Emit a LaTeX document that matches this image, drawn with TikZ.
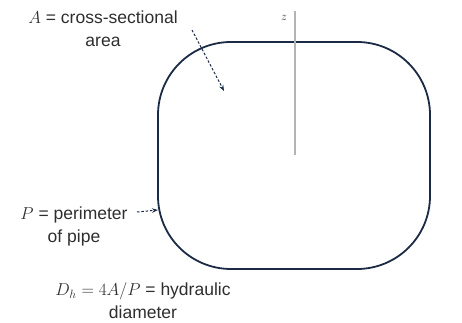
\documentclass[tikz,border=0pt]{standalone}
\usepackage{fontspec}
\setmainfont{Liberation Sans}
\usetikzlibrary{arrows.meta}
\definecolor{pipecol}{HTML}{1C2B45}
\definecolor{axiscol}{HTML}{B4B4B4}
\definecolor{txtcol}{HTML}{2E2E2E}
\tikzset{
  pipeshape/.style={draw=pipecol, line width=1.8pt, rounded corners=73pt, minimum width=272pt, minimum height=227pt, inner sep=0pt},
  axisline/.style={draw=axiscol, line width=1.2pt},
  lbl/.style={text=txtcol, align=center, inner sep=0pt, font=\fontsize{17.5}{23}\selectfont},
  darrow/.style={draw=pipecol, line width=1pt, dash pattern=on 2.5pt off 1.8pt, -{Stealth[length=6pt,width=4.5pt]}}
}
\begin{document}
\begin{tikzpicture}[x=1pt,y=1pt]
\useasboundingbox (0,0) rectangle (462,323);
\node[pipeshape] (pipe) at (294,167.5) {};
% z axis
\coordinate (ztop) at (295,312);
\coordinate (zbot) at (295,168);
\draw[axisline] (ztop) -- (zbot);
\node[text=txtcol, inner sep=0pt, font=\fontsize{12}{14}\selectfont] (zl) at (284,305) {$z$};
% labels
\node[lbl] (Alab) at (103,294) {$A$ = cross-sectional\\area};
\node[lbl] (Plab) at (74,97) {$P$ = perimeter\\of pipe};
\node[lbl] (Dlab) at (143,22) {$D_h = 4A/P$ = hydraulic\\diameter};
% arrows
\coordinate (Astart) at (192,293);
\coordinate (Aend) at (224,232);
\draw[darrow] (Astart) -- (Aend);
\coordinate (Pstart) at (137,111);
\coordinate (Pend) at (158,113);
\draw[darrow] (Pstart) -- (Pend);
\end{tikzpicture}
\end{document}
